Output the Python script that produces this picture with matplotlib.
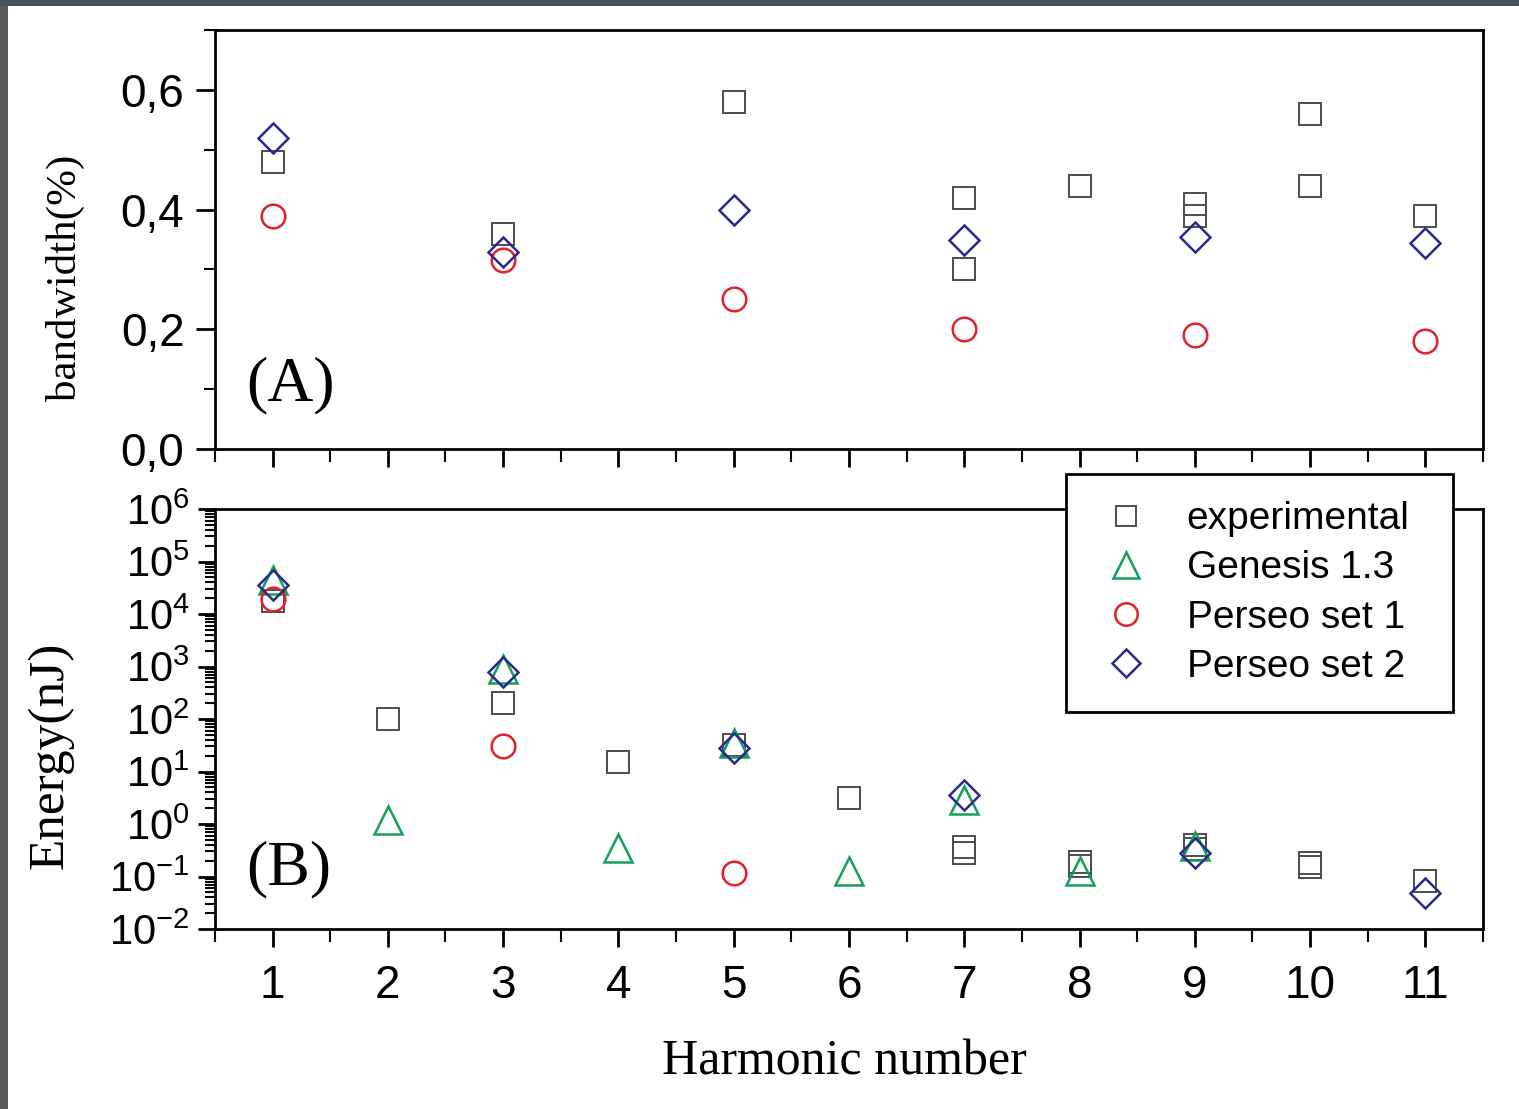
import numpy as np
import matplotlib.pyplot as plt
from matplotlib.ticker import MultipleLocator, FixedLocator, NullFormatter, FuncFormatter, LogLocator
from matplotlib.patches import Rectangle

# ---- data ----
harm = np.arange(1, 12)

# (A) bandwidth (%)
bw_exp_x = [1, 3, 5, 7, 7, 8, 9, 9, 10, 10, 11]
bw_exp_y = [0.48, 0.36, 0.58, 0.42, 0.30, 0.44, 0.41, 0.39, 0.56, 0.44, 0.39]
bw_p1_x = [1, 3, 5, 7, 9, 11]
bw_p1_y = [0.39, 0.316, 0.25, 0.20, 0.19, 0.18]
bw_p2_x = [1, 3, 5, 7, 9, 11]
bw_p2_y = [0.52, 0.33, 0.40, 0.35, 0.355, 0.345]

# (B) energy (nJ)
en_exp_x = [1, 2, 3, 4, 5, 6, 7, 7, 8, 8, 9, 9, 10, 10, 11]
en_exp_y = [1.8e4, 100, 200, 15, 32, 3.1, 0.36, 0.28, 0.19, 0.16, 0.40, 0.33, 0.18, 0.15, 0.082]
en_gen_x = [1, 2, 3, 4, 5, 6, 7, 8, 9]
en_gen_y = [4.4e4, 1.2, 900, 0.35, 35, 0.13, 2.9, 0.13, 0.38]
en_p1_x = [1, 3, 5]
en_p1_y = [1.9e4, 30, 0.115]
en_p2_x = [1, 3, 5, 7, 9, 11]
en_p2_y = [3.5e4, 800, 28, 3.6, 0.28, 0.049]

C_EXP = "#4d4d4d"
C_GEN = "#14a05a"
C_P1 = "#e3202b"
C_P2 = "#2b2a8c"

plt.rcParams.update({
    "font.family": ["Liberation Sans", "DejaVu Sans"],
    "mathtext.fontset": "custom",
    "mathtext.rm": "Liberation Sans",
    "axes.linewidth": 2.0,
    "axes.unicode_minus": False,
})
serif = ["Liberation Serif", "DejaVu Serif"]

fig = plt.figure(figsize=(15.19, 11.09), dpi=100, facecolor="white")

# thin strip of the slide behind the figure
fig.patches.append(Rectangle((0, 0), 0.0055, 1, transform=fig.transFigure,
                             facecolor="#5b5b58", edgecolor="none", zorder=0))
fig.patches.append(Rectangle((0, 0.9946), 1, 0.0054, transform=fig.transFigure,
                             facecolor="#4a4f5e", edgecolor="none", zorder=0))

axA = fig.add_axes([0.1415, 0.5951, 0.8348, 0.3778])
axB = fig.add_axes([0.1415, 0.1623, 0.8348, 0.3787])

mk = dict(linestyle="none", markerfacecolor="none")

# panel A
axA.plot(bw_exp_x, bw_exp_y, marker="s", ms=15.5, mew=1.4, color=C_EXP, **mk)
axA.plot(bw_p1_x, bw_p1_y, marker="o", ms=17, mew=1.8, color=C_P1, **mk)
axA.plot(bw_p2_x, bw_p2_y, marker="D", ms=15, mew=1.8, color=C_P2, **mk)

# panel B
axB.plot(en_exp_x, en_exp_y, marker="s", ms=15.5, mew=1.4, color=C_EXP, label="experimental", **mk)
axB.plot(en_gen_x, en_gen_y, marker="^", ms=20, mew=1.8, color=C_GEN, label="Genesis 1.3", **mk)
axB.plot(en_p1_x, en_p1_y, marker="o", ms=17, mew=1.8, color=C_P1, label="Perseo set 1", **mk)
axB.plot(en_p2_x, en_p2_y, marker="D", ms=15, mew=1.8, color=C_P2, label="Perseo set 2", **mk)

for ax in (axA, axB):
    ax.set_xlim(0.5, 11.5)
    ax.xaxis.set_major_locator(FixedLocator(harm))
    ax.xaxis.set_minor_locator(MultipleLocator(0.5))
    ax.tick_params(axis="x", which="major", direction="out", length=13, width=2,
                   labelsize=33, pad=12)
    ax.tick_params(axis="x", which="minor", direction="out", length=9, width=1.5)
    ax.tick_params(axis="y", which="major", direction="out", length=14, width=2,
                   labelsize=33, pad=8)
    ax.tick_params(axis="y", which="minor", direction="out", length=8, width=1.5)

axA.set_ylim(0, 0.7)
axA.yaxis.set_major_locator(FixedLocator([0, 0.2, 0.4, 0.6]))
axA.yaxis.set_minor_locator(MultipleLocator(0.1))
axA.yaxis.set_major_formatter(FuncFormatter(lambda v, p: f"{v:.1f}".replace(".", ",")))
axA.tick_params(axis="x", labelbottom=False)

axB.set_yscale("log")
axB.set_ylim(1e-2, 1e6)
axB.yaxis.set_major_locator(LogLocator(base=10, numticks=20))
axB.yaxis.set_minor_locator(LogLocator(base=10, subs=np.arange(2, 10), numticks=20))
axB.yaxis.set_minor_formatter(NullFormatter())
axB.tick_params(axis="y", which="major", labelsize=30, pad=6, length=12)
axB.tick_params(axis="y", which="minor", length=7)

axA.text(0.025, 0.115, "(A)", transform=axA.transAxes, family=serif, fontsize=46)
axB.text(0.025, 0.105, "(B)", transform=axB.transAxes, family=serif, fontsize=46)

fig.text(0.043, 0.749, "bandwidth(%)", rotation=90, ha="center", va="center",
         family=serif, fontsize=31)
fig.text(0.033, 0.319, "Energy(nJ)", rotation=90, ha="center", va="center",
         family=serif, fontsize=37)
fig.text(0.556, 0.042, "Harmonic number", ha="center", va="center",
         family=serif, fontsize=36)

leg = axB.legend(loc="upper left", bbox_to_anchor=(0.7018, 0.358, 0.2548, 0.2146),
                 bbox_transform=fig.transFigure, mode="expand", fontsize=28,
                 frameon=True, framealpha=1, fancybox=False, borderpad=0.7,
                 labelspacing=0.34, handletextpad=0.7, handlelength=1.7,
                 markerscale=0.95, borderaxespad=0)
leg.get_frame().set_edgecolor("black")
leg.get_frame().set_linewidth(2)
leg.set_zorder(10)

fig.savefig("out.png", dpi=100, facecolor="white")
